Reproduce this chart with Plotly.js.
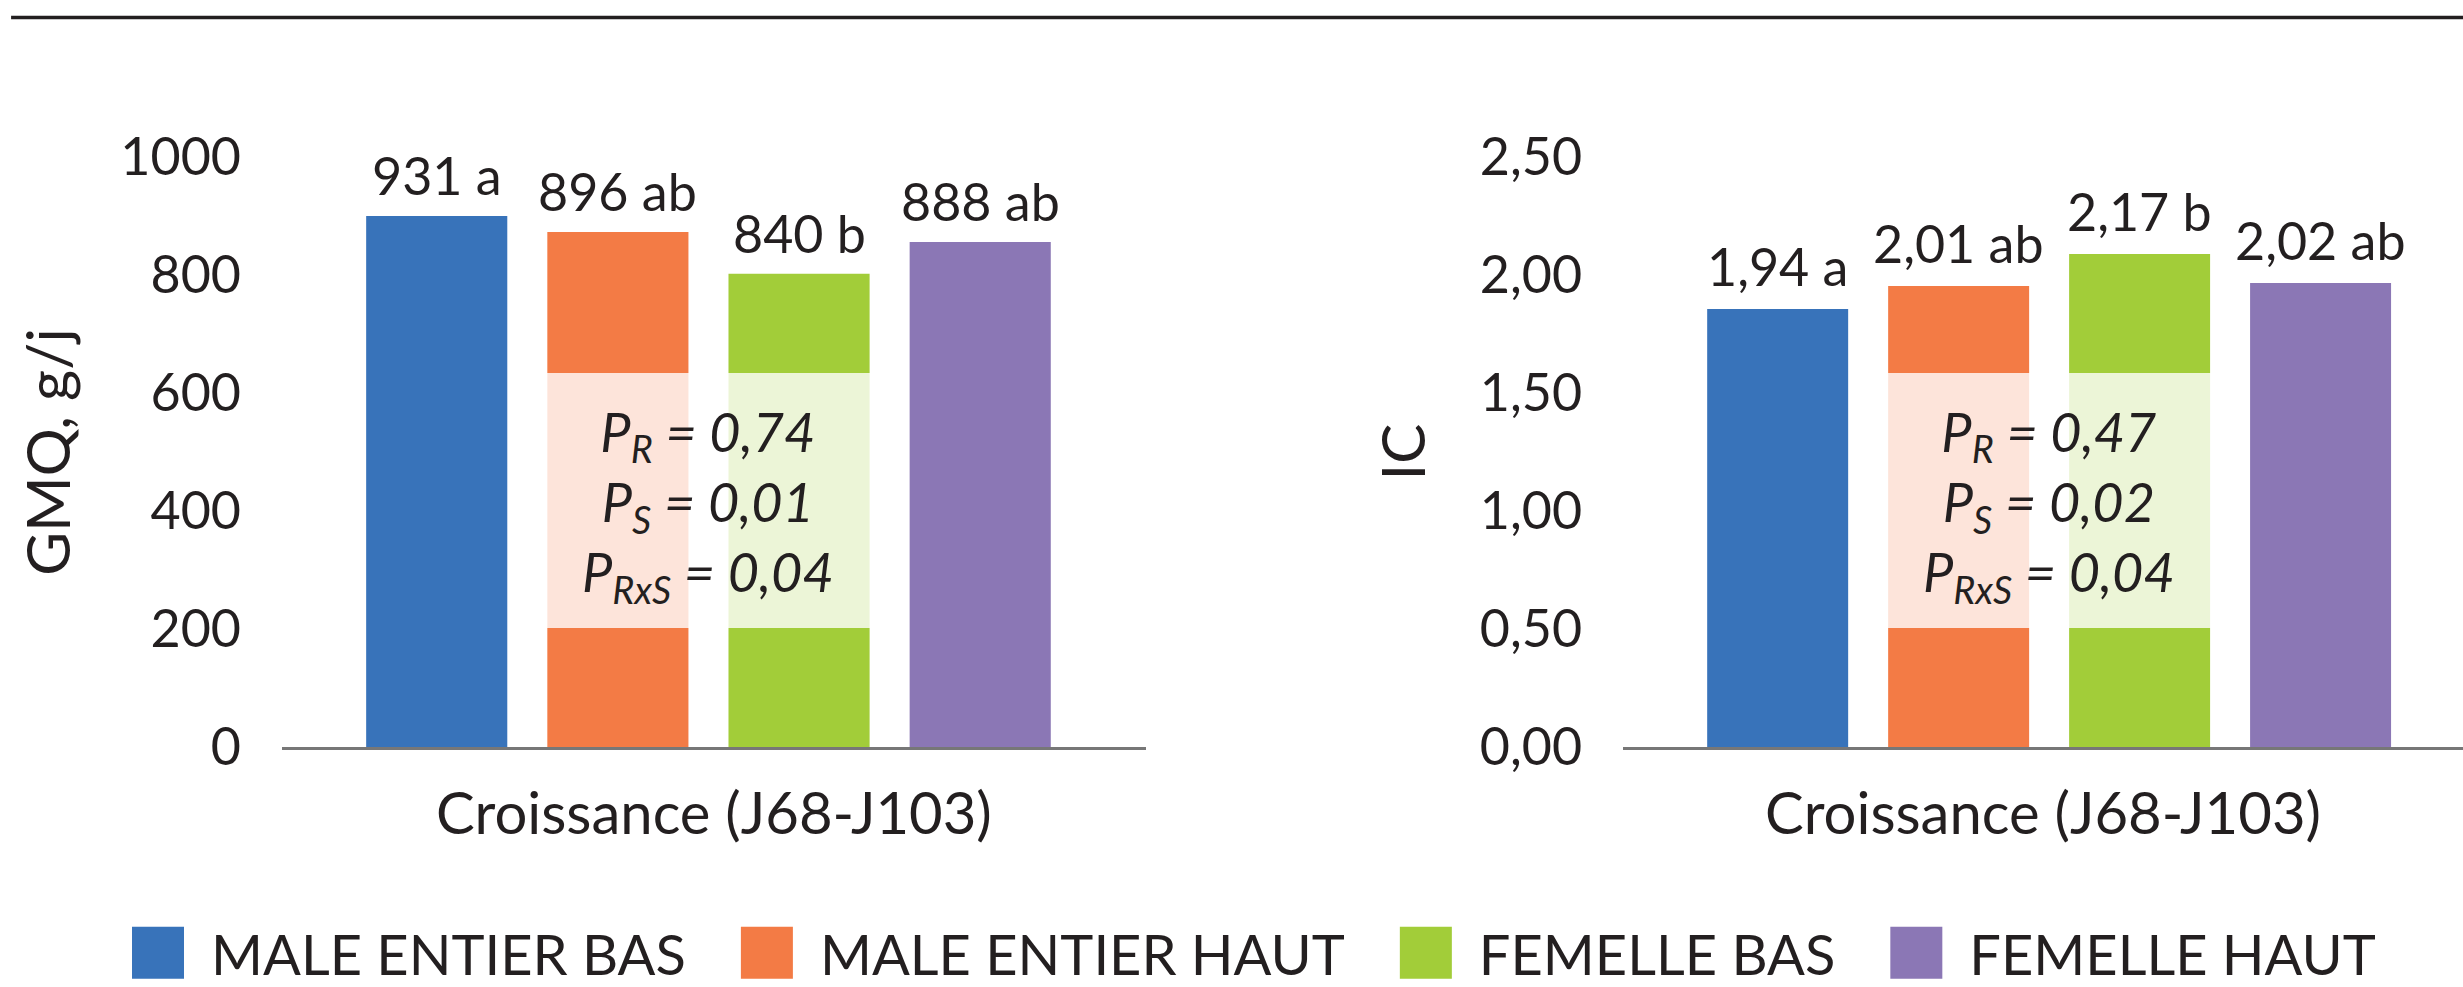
<!DOCTYPE html>
<html><head><meta charset="utf-8">
<script src="https://cdn.plot.ly/plotly-3.0.1.min.js"></script>
<style>html,body{margin:0;padding:0;background:#fff;overflow:hidden}</style>
</head><body><div id="chart" style="width:2463px;height:987px"></div>
<script>
// ---- data ----
const groups = ['MALE ENTIER BAS', 'MALE ENTIER HAUT', 'FEMELLE BAS', 'FEMELLE HAUT'];
const colors = ['#3873ba', '#f37b45', '#a2cd39', '#8b77b5'];
const periodTitle = 'Croissance (J68-J103)';
const gmqValues = [900, 873, 802, 856];
const gmqLabels = ['931 a', '896 ab', '840 b', '888 ab'];
const icValues = [1.856, 1.953, 2.089, 1.966];
const icLabels = ['1,94 a', '2,01 ab', '2,17 b', '2,02 ab'];
const gmqTickVals = [0, 200, 400, 600, 800, 1000];
const gmqTickText = ['0', '200', '400', '600', '800', '1000'];
const icTickVals = [0, 0.5, 1, 1.5, 2, 2.5];
const icTickText = ['0,00', '0,50', '1,00', '1,50', '2,00', '2,50'];
const pNames = ['R', 'S', 'RxS'];
const gmqP = ['0,74', '0,01', '0,04'];
const icP = ['0,47', '0,02', '0,04'];

const FONT = 'Lato, "Open Sans", sans-serif';
const INK = '#231f20';

const traces = [];
groups.forEach((g, i) => {
  traces.push({type: 'bar', name: g, x: [g], y: [gmqValues[i]], xaxis: 'x', yaxis: 'y',
    marker: {color: colors[i], line: {width: 0}}, legendgroup: g, showlegend: true, hoverinfo: 'y'});
});
groups.forEach((g, i) => {
  traces.push({type: 'bar', name: g, x: [g], y: [icValues[i]], xaxis: 'x2', yaxis: 'y2',
    marker: {color: colors[i], line: {width: 0}}, legendgroup: g, showlegend: false, hoverinfo: 'y'});
});

function statText(vals) {
  return pNames.map((n, k) => '<i>P<sub>' + n + '</sub> = ' + vals[k] + '</i>').join('<br>');
}

const annotations = [];
groups.forEach((g, i) => {
  annotations.push({xref: 'x', yref: 'y', x: g, y: gmqValues[i], text: gmqLabels[i], showarrow: false,
    yanchor: 'middle', yshift: 41, font: {family: FONT, size: 52, color: INK}});
  annotations.push({xref: 'x2', yref: 'y2', x: g, y: icValues[i], text: icLabels[i], showarrow: false,
    yanchor: 'middle', yshift: 43, font: {family: FONT, size: 52, color: INK}});
});
annotations.push({xref: 'x', yref: 'y domain', x: 1.5, y: 0.41, text: statText(gmqP), showarrow: false,
  align: 'center', font: {family: FONT, size: 54, color: INK}});
annotations.push({xref: 'x2', yref: 'y2 domain', x: 1.5, y: 0.41, text: statText(icP), showarrow: false,
  align: 'center', font: {family: FONT, size: 54, color: INK}});

const boxStyle = {type: 'rect', fillcolor: 'rgba(255,255,255,0.8)', line: {width: 0}, layer: 'above'};
const shapes = [
  Object.assign({xref: 'x', yref: 'y domain', x0: 0.5, x1: 2.5, y0: 0.2017, y1: 0.6339}, boxStyle),
  Object.assign({xref: 'x2', yref: 'y2 domain', x0: 0.5, x1: 2.5, y0: 0.2017, y1: 0.6339}, boxStyle),
  {type: 'line', xref: 'paper', yref: 'paper', x0: 0.0045, x1: 1, y0: 1.2364, y1: 1.2364,
   line: {color: INK, width: 3.5}}
];

const xCommon = {type: 'category', categoryorder: 'array', categoryarray: groups, showticklabels: false,
  ticks: '', showgrid: false, zeroline: false, showline: true, linecolor: '#777777', linewidth: 3,
  fixedrange: true};
const yCommon = {showgrid: false, zeroline: false, showline: false, ticks: '', ticklabelstandoff: 40,
  tickfont: {family: FONT, size: 52, color: INK}, fixedrange: true};

const layout = {
  width: 2463, height: 987,
  margin: {l: 0, r: 0, t: 157, b: 240, autoexpand: false},
  paper_bgcolor: '#ffffff', plot_bgcolor: '#ffffff',
  font: {family: FONT, color: INK},
  barmode: 'overlay', bargap: 0.221,
  showlegend: true,
  legend: {orientation: 'h', x: 0.5, xanchor: 'center', y: -0.349, yanchor: 'middle',
    font: {family: FONT, size: 56, color: INK}, itemwidth: 119, bgcolor: 'rgba(0,0,0,0)',
    borderwidth: 0, traceorder: 'normal', itemclick: false, itemdoubleclick: false},
  xaxis: Object.assign({domain: [0.1145, 0.4652], range: [-0.854, 3.914],
    title: {text: periodTitle, font: {family: FONT, size: 58, color: INK}, standoff: 45}}, xCommon),
  xaxis2: Object.assign({domain: [0.659, 1], range: [-0.854, 3.787], anchor: 'y2',
    title: {text: periodTitle, font: {family: FONT, size: 58, color: INK}, standoff: 45}}, xCommon),
  yaxis: Object.assign({range: [0, 1000], tickvals: gmqTickVals, ticktext: gmqTickText,
    title: {text: 'GMQ, g/j', font: {family: FONT, size: 60, color: INK}, standoff: 30}}, yCommon),
  yaxis2: Object.assign({range: [0, 2.5], tickvals: icTickVals, ticktext: icTickText, anchor: 'x2',
    title: {text: 'IC', font: {family: FONT, size: 60, color: INK}, standoff: 34}}, yCommon),
  annotations: annotations,
  shapes: shapes
};

Plotly.newPlot('chart', traces, layout, {displayModeBar: false, staticPlot: true}).then(gd => {
  // enlarge legend colour swatches to match the reference's square keys
  gd.querySelectorAll('.legend .legendpoints path').forEach(p => {
    p.setAttribute('d', 'M-14.5,-26H37.5V26H-14.5Z');
  });
});
</script></body></html>
